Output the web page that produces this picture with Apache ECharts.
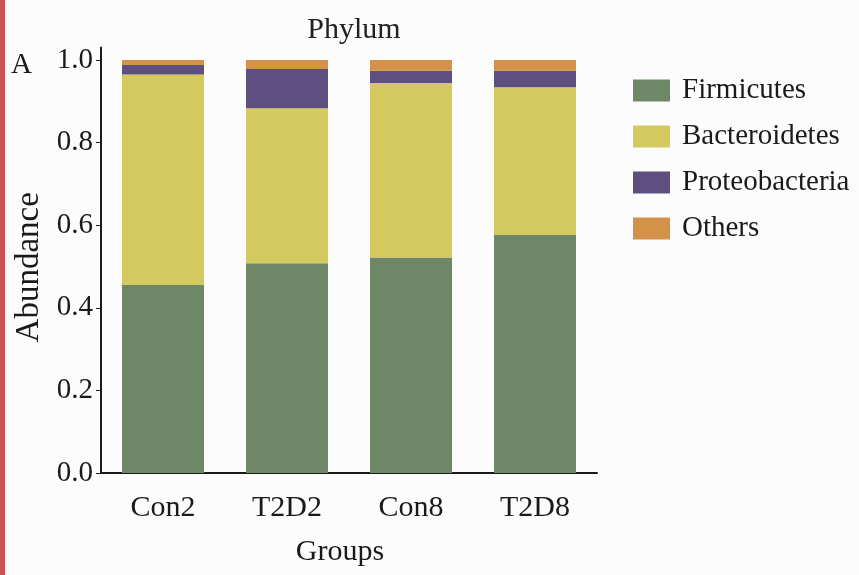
<!DOCTYPE html>
<html>
<head>
<meta charset="utf-8">
<script src="https://cdn.jsdelivr.net/npm/echarts@6/dist/echarts.min.js"></script>
<style>
  html, body { margin: 0; padding: 0; background: #ffffff; }
  #chart { width: 859px; height: 575px; }
</style>
</head>
<body>
<div id="chart"></div>
<script>
// Relative abundance of the main phyla per group
const groups = ['Con2', 'T2D2', 'Con8', 'T2D8'];
const firmicutes     = [0.455, 0.508, 0.522, 0.576];
const bacteroidetes  = [0.510, 0.375, 0.422, 0.358];
const proteobacteria = [0.023, 0.095, 0.030, 0.040];
const others         = [0.012, 0.022, 0.026, 0.026];
const yTicks = [0, 0.2, 0.4, 0.6, 0.8, 1.0];

const FONT = 'Liberation Serif';
const seriesDefs = [
  { name: 'Firmicutes', data: firmicutes, color: '#6d8767' },
  { name: 'Bacteroidetes', data: bacteroidetes, color: '#d4c95f' },
  { name: 'Proteobacteria', data: proteobacteria, color: '#5f4f80' },
  { name: 'Others', data: others, color: '#d49249' }
];

const chart = echarts.init(document.getElementById('chart'), null, { renderer: 'canvas' });

chart.setOption({
  backgroundColor: '#fcfcfc',
  animation: false,
  textStyle: { fontFamily: FONT, color: '#1a1a1a' },
  title: {
    text: 'Phylum',
    left: 349,
    textAlign: 'center',
    top: 10,
    textStyle: { fontFamily: FONT, fontSize: 30, fontWeight: 'normal', color: '#222' }
  },
  graphic: [
    { type: 'rect', left: 0, top: 0, shape: { width: 5, height: 575 }, style: { fill: '#c65252' } },
    { type: 'text', left: 11, top: 51, style: { text: 'A', font: '29px "Liberation Serif"', fill: '#1a1a1a' } }
  ],
  legend: {
    orient: 'vertical',
    left: 628,
    top: 71,
    itemWidth: 37,
    itemHeight: 22,
    itemGap: 17,
    icon: 'rect',
    data: seriesDefs.map(s => s.name),
    textStyle: { fontFamily: FONT, fontSize: 29, color: '#1a1a1a', padding: [0, 0, 0, 7] }
  },
  grid: { left: 101, top: 47.6, width: 496, height: 425.4 },
  xAxis: {
    type: 'category',
    data: groups,
    name: 'Groups',
    nameLocation: 'middle',
    nameGap: 64,
    nameTextStyle: { fontFamily: FONT, fontSize: 30, color: '#1a1a1a', padding: [0, 18, 0, 0] },
    axisLine: { lineStyle: { color: '#1a1a1a', width: 2 } },
    axisTick: { alignWithLabel: true, length: 4, lineStyle: { color: '#1a1a1a' } },
    axisLabel: { fontFamily: FONT, fontSize: 30, color: '#1a1a1a', margin: 20 }
  },
  yAxis: {
    type: 'value',
    min: 0,
    max: 1.03,
    name: 'Abundance',
    nameLocation: 'middle',
    nameGap: 55,
    nameRotate: 90,
    nameTextStyle: { fontFamily: FONT, fontSize: 33, color: '#1a1a1a', padding: [0, 14, 0, 0] },
    axisLine: { show: true, lineStyle: { color: '#1a1a1a', width: 2 } },
    axisTick: { show: true, length: 5, customValues: yTicks, lineStyle: { color: '#1a1a1a' } },
    axisLabel: {
      fontFamily: FONT, fontSize: 29, color: '#1a1a1a', margin: 8,
      customValues: yTicks,
      formatter: v => v.toFixed(1)
    },
    splitLine: { show: false }
  },
  series: seriesDefs.map(s => ({
    name: s.name,
    type: 'bar',
    stack: 'total',
    barWidth: 82,
    data: s.data,
    itemStyle: { color: s.color }
  }))
});
</script>
</body>
</html>
